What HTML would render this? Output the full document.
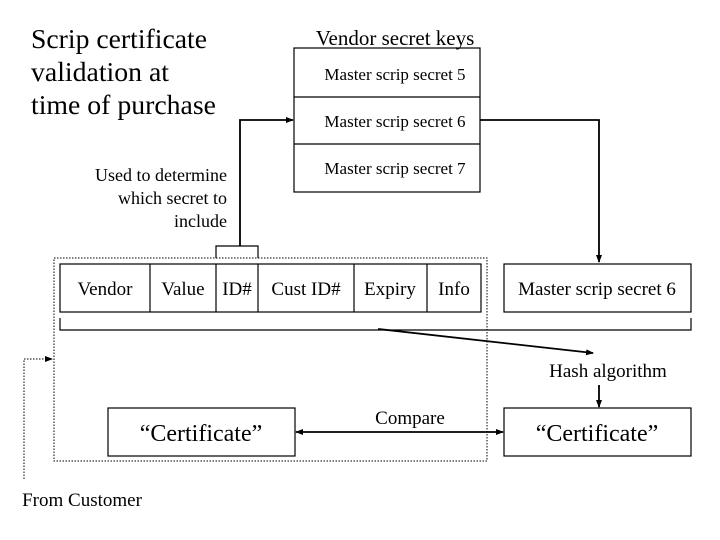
<!DOCTYPE html>
<html><head><meta charset="utf-8"><style>html,body{margin:0;padding:0;background:#fff}svg{display:block}</style></head>
<body>
<svg width="720" height="540" viewBox="0 0 720 540" xmlns="http://www.w3.org/2000/svg" font-family="Liberation Serif, serif" fill="#000">
<defs>
<marker id="a" markerWidth="8" markerHeight="8" refX="7" refY="4" orient="auto" markerUnits="userSpaceOnUse"><path d="M0,1 L8,4 L0,7 z"/></marker>
<marker id="b" markerWidth="8" markerHeight="8" refX="1" refY="4" orient="auto" markerUnits="userSpaceOnUse"><path d="M8,1 L0,4 L8,7 z"/></marker>
</defs>
<g font-size="27">
<text x="31" y="48" textLength="176" lengthAdjust="spacingAndGlyphs">Scrip certificate</text>
<text x="31" y="81" textLength="138" lengthAdjust="spacingAndGlyphs">validation at</text>
<text x="31" y="114" textLength="185" lengthAdjust="spacingAndGlyphs">time of purchase</text>
</g>
<g font-size="18" text-anchor="end">
<text x="227" y="181">Used to determine</text>
<text x="227" y="204">which secret to</text>
<text x="227" y="227">include</text>
</g>
<text x="395" y="45" font-size="21" text-anchor="middle">Vendor secret keys</text>
<g fill="none" stroke="#000" stroke-width="1.2">
<rect x="294" y="48" width="186" height="144"/>
<line x1="294" y1="97" x2="480" y2="97"/>
<line x1="294" y1="144" x2="480" y2="144"/>
<rect x="60" y="264" width="421" height="48"/>
<line x1="150" y1="264" x2="150" y2="312"/>
<line x1="216" y1="264" x2="216" y2="312"/>
<line x1="258" y1="264" x2="258" y2="312"/>
<line x1="354" y1="264" x2="354" y2="312"/>
<line x1="427" y1="264" x2="427" y2="312"/>
<rect x="504" y="264" width="187" height="48"/>
<polyline points="60,318 60,330 691,330 691,318"/>
<polyline points="216,258 216,246 258,246 258,258"/>
<rect x="108" y="408" width="187" height="48"/>
<rect x="504" y="408" width="187" height="48"/>
<rect x="54" y="258" width="433" height="203" stroke-dasharray="1.5,1.5" stroke-width="1"/>
<polyline points="24,479 24,359 52,359" stroke-dasharray="1.5,1.5" stroke-width="1" marker-end="url(#a)"/>
</g>
<g fill="none" stroke="#000" stroke-width="1.8">
<polyline points="240,246 240,120 293,120" marker-end="url(#a)"/>
<polyline points="480,120 599,120 599,262" marker-end="url(#a)"/>
<line x1="378" y1="329" x2="593" y2="353" marker-end="url(#a)"/>
<line x1="599" y1="385" x2="599" y2="407" marker-end="url(#a)"/>
<line x1="296" y1="432" x2="503" y2="432" marker-end="url(#a)" marker-start="url(#b)"/>
</g>
<g font-size="17" text-anchor="middle">
<text x="395" y="80">Master scrip secret 5</text>
<text x="395" y="127">Master scrip secret 6</text>
<text x="395" y="174">Master scrip secret 7</text>
</g>
<g font-size="19" text-anchor="middle">
<text x="105" y="295">Vendor</text>
<text x="183" y="295">Value</text>
<text x="237" y="295">ID#</text>
<text x="306" y="295">Cust ID#</text>
<text x="390" y="295">Expiry</text>
<text x="454" y="295">Info</text>
<text x="597" y="295">Master scrip secret 6</text>
<text x="608" y="377">Hash algorithm</text>
<text x="410" y="424">Compare</text>
<text x="82" y="506">From Customer</text>
</g>
<g font-size="24" text-anchor="middle">
<text x="201" y="441">“Certificate”</text>
<text x="597" y="441">“Certificate”</text>
</g>
</svg>
</body></html>
